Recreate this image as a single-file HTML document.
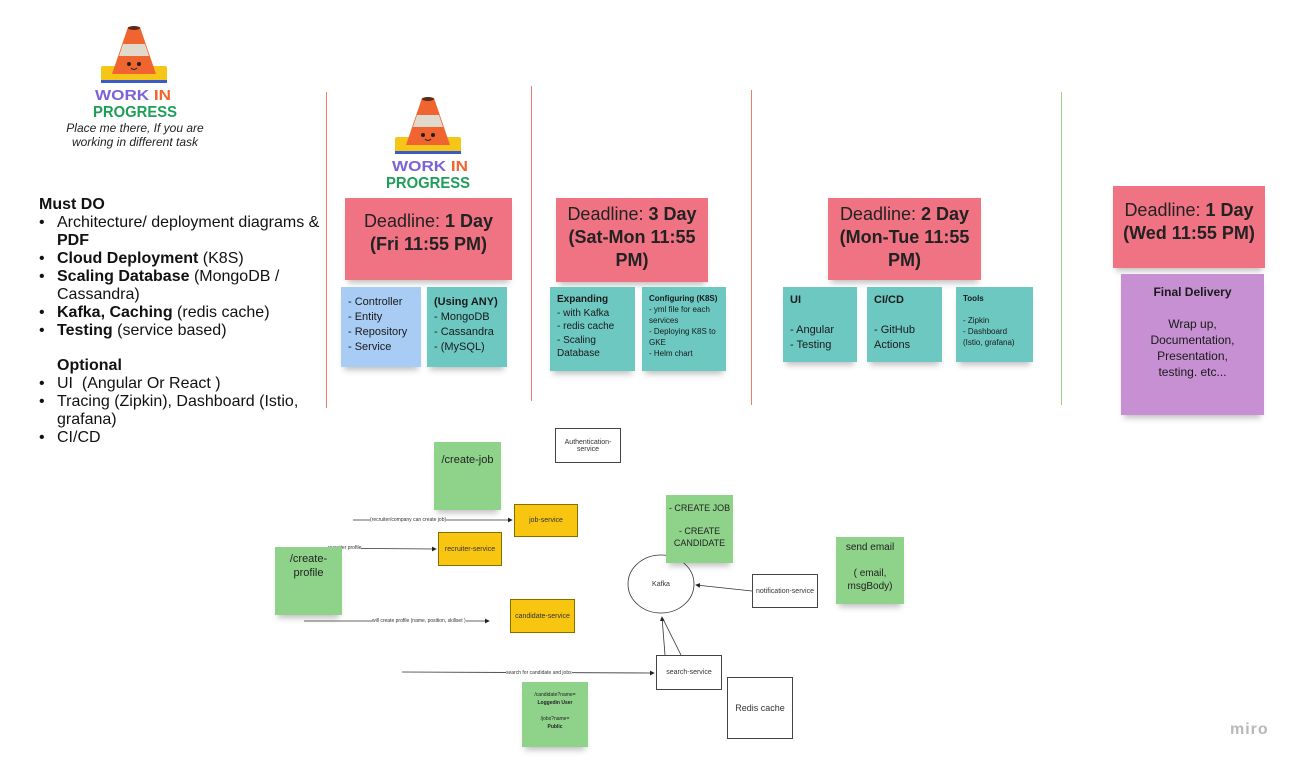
<!DOCTYPE html>
<html><head><meta charset="utf-8"><style>
body{margin:0;width:1302px;height:767px;background:#fff;position:relative;overflow:hidden;font-family:"Liberation Sans",sans-serif;}
.a{position:absolute;box-sizing:border-box;}
.n{position:absolute;box-sizing:border-box;box-shadow:0 6px 6px -3px rgba(0,0,0,.25);color:#1a1a1a;}
.pk{background:#f07384;text-align:center;font-size:18px;line-height:23px;padding-top:5px;color:#222}
.tl{background:#6cc8c1;font-size:11px;line-height:15px;padding:6px 7px;}
.gr{background:#8fd38b;text-align:center;color:#222;}
.ye{background:#f8c511;border:1px solid #8a6d00;font-size:7px;display:flex;align-items:center;justify-content:center;color:#333;}
.wb{background:#fff;border:1px solid #444;font-size:7px;display:flex;align-items:center;justify-content:center;text-align:center;color:#333;}
.lbl{position:absolute;font-size:5px;background:#fff;color:#333;white-space:nowrap;}
ul{margin:0;padding:0;list-style:none}
</style></head><body>

<svg class="a" style="left:90px;top:24px" width="90" height="96" viewBox="0 0 90 96">
<rect x="11" y="42" width="66" height="16" rx="2" fill="#f5c518"/><rect x="11" y="56" width="66" height="3" fill="#3a5bc7"/>
<polygon points="38,3 50,3 66,50 22,50" fill="#f0652f"/><polygon points="33,20 55,20 59,32 29,32" fill="#e0d9cc"/>
<ellipse cx="44" cy="4" rx="6" ry="2" fill="#5a2a1a"/>
<circle cx="39" cy="40" r="2" fill="#222"/><circle cx="49" cy="40" r="2" fill="#222"/><path d="M41 44 q3 3 6 0" stroke="#222" fill="none"/>
<text x="5" y="76" font-size="15" font-weight="bold" fill="#7b62d6" font-family="Liberation Sans" textLength="76" lengthAdjust="spacingAndGlyphs">WORK <tspan fill="#f0652f">IN</tspan></text>
<text x="3" y="93" font-size="16" font-weight="bold" fill="#1f9e5a" font-family="Liberation Sans" textLength="84" lengthAdjust="spacingAndGlyphs">PROGRESS</text>
</svg>
<div class="a" style="left:50px;top:121px;width:170px;text-align:center;font-size:12px;font-style:italic;line-height:14px;color:#222">Place me there, If you are working in different task</div>

<svg class="a" style="left:384px;top:95px" width="90" height="96" viewBox="0 0 90 96">
<rect x="11" y="42" width="66" height="16" rx="2" fill="#f5c518"/><rect x="11" y="56" width="66" height="3" fill="#3a5bc7"/>
<polygon points="38,3 50,3 66,50 22,50" fill="#f0652f"/><polygon points="33,20 55,20 59,32 29,32" fill="#e0d9cc"/>
<ellipse cx="44" cy="4" rx="6" ry="2" fill="#5a2a1a"/>
<circle cx="39" cy="40" r="2" fill="#222"/><circle cx="49" cy="40" r="2" fill="#222"/><path d="M41 44 q3 3 6 0" stroke="#222" fill="none"/>
<text x="8" y="76" font-size="15" font-weight="bold" fill="#7b62d6" font-family="Liberation Sans" textLength="76" lengthAdjust="spacingAndGlyphs">WORK <tspan fill="#f0652f">IN</tspan></text>
<text x="2" y="93" font-size="16" font-weight="bold" fill="#1f9e5a" font-family="Liberation Sans" textLength="84" lengthAdjust="spacingAndGlyphs">PROGRESS</text>
</svg>

<div class="a" style="left:39px;top:196px;width:290px;font-size:16px;line-height:18px;color:#111">
<div style="font-weight:bold">Must DO</div>
<ul>
<li style="padding-left:18px;position:relative"><span style="position:absolute;left:0">•</span>Architecture/ deployment diagrams &amp; <b>PDF</b></li>
<li style="padding-left:18px;position:relative"><span style="position:absolute;left:0">•</span><b>Cloud Deployment</b> (K8S)</li>
<li style="padding-left:18px;position:relative"><span style="position:absolute;left:0">•</span><b>Scaling Database</b> (MongoDB / Cassandra)</li>
<li style="padding-left:18px;position:relative"><span style="position:absolute;left:0">•</span><b>Kafka, Caching</b> (redis cache)</li>
<li style="padding-left:18px;position:relative"><span style="position:absolute;left:0">•</span><b>Testing</b> (service based)</li>
</ul>
<div style="font-weight:bold;margin:17px 0 0 18px">Optional</div>
<ul>
<li style="padding-left:18px;position:relative"><span style="position:absolute;left:0">•</span>UI &nbsp;(Angular Or React )</li>
<li style="padding-left:18px;position:relative"><span style="position:absolute;left:0">•</span>Tracing (Zipkin), Dashboard (Istio, grafana)</li>
<li style="padding-left:18px;position:relative"><span style="position:absolute;left:0">•</span>CI/CD</li>
</ul></div>

<div class="a" style="left:326px;top:92px;width:1px;height:316px;background:#e8806c"></div>
<div class="a" style="left:531px;top:86px;width:1px;height:315px;background:#e8806c"></div>
<div class="a" style="left:751px;top:90px;width:1px;height:315px;background:#e8806c"></div>
<div class="a" style="left:1061px;top:92px;width:1px;height:313px;background:#9fd37f"></div>

<div class="n pk" style="left:345px;top:198px;width:167px;height:82px;padding-top:12px">Deadline: <b>1 Day</b><br><b>(Fri 11:55 PM)</b></div>
<div class="n pk" style="left:556px;top:198px;width:152px;height:84px">Deadline: <b>3 Day</b><br><b>(Sat-Mon 11:55 PM)</b></div>
<div class="n pk" style="left:828px;top:198px;width:153px;height:82px">Deadline: <b>2 Day</b><br><b>(Mon-Tue 11:55 PM)</b></div>
<div class="n pk" style="left:1113px;top:186px;width:152px;height:82px;padding-top:13px">Deadline: <b>1 Day</b><br><b>(Wed 11:55 PM)</b></div>

<div class="n tl" style="left:341px;top:287px;width:80px;height:80px;background:#a8ccf3;padding-top:8px">- Controller<br>- Entity<br>- Repository<br>- Service</div>
<div class="n tl" style="left:427px;top:287px;width:80px;height:80px;padding-top:8px"><b>(Using ANY)</b><br>- MongoDB<br>- Cassandra<br>- (MySQL)</div>
<div class="n tl" style="left:550px;top:287px;width:85px;height:84px;font-size:10px;line-height:13.5px"><b>Expanding</b><br>- with Kafka<br>- redis cache<br>- Scaling Database</div>
<div class="n tl" style="left:642px;top:287px;width:84px;height:84px;font-size:8px;line-height:11px"><b>Configuring (K8S)</b><br>- yml file for each services<br>- Deploying K8S to GKE<br>- Helm chart</div>
<div class="n tl" style="left:783px;top:287px;width:74px;height:75px"><b>UI</b><br><br>- Angular<br>- Testing</div>
<div class="n tl" style="left:867px;top:287px;width:75px;height:75px"><b>CI/CD</b><br><br>- GitHub<br>Actions</div>
<div class="n tl" style="left:956px;top:287px;width:77px;height:75px;font-size:8px;line-height:11px"><b>Tools</b><br><br>- Zipkin<br>- Dashboard (Istio, grafana)</div>

<div class="n" style="left:1121px;top:274px;width:143px;height:141px;background:#c690d2;text-align:center;font-size:12px;line-height:16px;padding:10px 12px"><b>Final Delivery</b><br><br>Wrap up,<br>Documentation,<br>Presentation,<br>testing. etc...</div>

<svg class="a" style="left:0;top:0" width="1302" height="767">
<defs><marker id="ar" markerWidth="6" markerHeight="6" refX="5" refY="3" orient="auto"><path d="M0,0 L6,3 L0,6z" fill="#222"/></marker></defs>
<g stroke="#333" stroke-width="0.8" fill="none">
<line x1="353" y1="520" x2="512" y2="520" marker-end="url(#ar)"/>
<line x1="300" y1="548" x2="436" y2="549" marker-end="url(#ar)"/>
<line x1="304" y1="621" x2="489" y2="621" marker-end="url(#ar)"/>
<line x1="402" y1="672" x2="654" y2="673" marker-end="url(#ar)"/>
<line x1="752" y1="591" x2="696" y2="585" marker-end="url(#ar)"/>
<line x1="665" y1="655" x2="662" y2="617" marker-end="url(#ar)"/>
<line x1="681" y1="655" x2="663" y2="619"/>
<ellipse cx="661" cy="584" rx="33" ry="29" fill="#fff"/>
</g>
<text x="661" y="586" font-size="7" text-anchor="middle" fill="#333" font-family="Liberation Sans">Kafka</text>
</svg>
<div class="lbl" style="left:370px;top:517px">(recruiter/company can create job)</div>
<div class="lbl" style="left:328px;top:545px">recruiter profile</div>
<div class="lbl" style="left:372px;top:618px">will create profile (name, position, skillset )</div>
<div class="lbl" style="left:506px;top:670px">search for candidate and jobs</div>

<div class="n gr" style="left:434px;top:442px;width:67px;height:68px;font-size:11px;padding-top:12px">/create-job</div>
<div class="n gr" style="left:275px;top:547px;width:67px;height:68px;font-size:11px;line-height:14px;padding-top:5px">/create-<br>profile</div>
<div class="n gr" style="left:666px;top:495px;width:67px;height:68px;font-size:9px;line-height:11.5px;padding-top:8px">- CREATE JOB<br><br>- CREATE CANDIDATE</div>
<div class="n gr" style="left:836px;top:537px;width:68px;height:67px;font-size:10px;line-height:13px;padding-top:4px">send email<br><br>( email, msgBody)</div>
<div class="n gr" style="left:522px;top:682px;width:66px;height:65px;font-size:5px;line-height:8px;padding-top:9px">/candidate?name=<br><b>Loggedin User</b><br><br>/jobs?name=<br><b>Public</b></div>

<div class="a ye" style="left:514px;top:504px;width:64px;height:33px">job-service</div>
<div class="a ye" style="left:438px;top:532px;width:64px;height:34px">recruiter-service</div>
<div class="a ye" style="left:510px;top:599px;width:65px;height:34px">candidate-service</div>

<div class="a wb" style="left:555px;top:428px;width:66px;height:35px">Authentication-<br>service</div>
<div class="a wb" style="left:752px;top:574px;width:66px;height:34px">notification-service</div>
<div class="a wb" style="left:656px;top:655px;width:66px;height:35px">search-service</div>
<div class="a wb" style="left:727px;top:677px;width:66px;height:62px;font-size:9px">Redis cache</div>

<div class="a" style="left:1230px;top:721px;font-size:16px;color:#b8b8b8;font-weight:bold;letter-spacing:1px">miro</div>
</body></html>
